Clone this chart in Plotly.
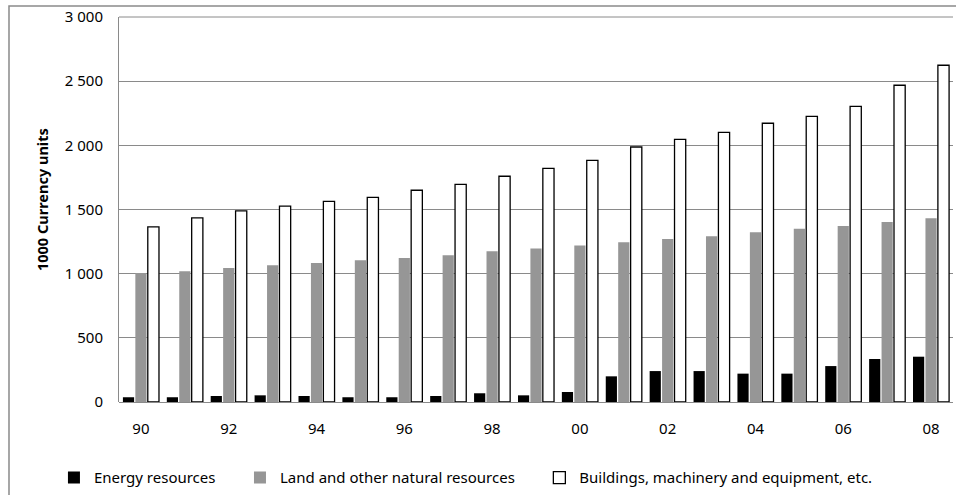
import plotly.graph_objects as go

years = list(range(1990, 2009))
energy = [37, 37, 47, 52, 47, 37, 37, 47, 68, 52, 78, 200, 241, 241, 221, 221, 280, 335, 353]
land = [1005, 1018, 1044, 1065, 1083, 1104, 1122, 1143, 1174, 1197, 1220, 1244, 1270, 1291, 1322, 1350, 1371, 1402, 1431]
buildings = [1364, 1434, 1490, 1527, 1564, 1595, 1650, 1696, 1759, 1821, 1883, 1987, 2047, 2101, 2172, 2226, 2304, 2468, 2624]
tick_years = list(range(1990, 2009, 2))
tick_text = ["90", "92", "94", "96", "98", "00", "02", "04", "06", "08"]

font = "Noto Sans"
pad = "\u00a0" * 5

fig = go.Figure()
fig.add_trace(go.Bar(x=years, y=energy, name="Energy resources" + pad,
                     marker=dict(color="#000000", line=dict(width=0))))
fig.add_trace(go.Bar(x=years, y=land, name="Land and other natural resources" + pad,
                     marker=dict(color="#969696", line=dict(width=0))))
fig.add_trace(go.Bar(x=years, y=buildings, name="Buildings, machinery and equipment, etc.",
                     marker=dict(color="#ffffff", line=dict(color="#000000", width=1.3))))

fig.update_layout(
    width=956, height=495,
    margin=dict(l=119, r=3, t=17, b=93, autoexpand=False),
    paper_bgcolor="white", plot_bgcolor="white",
    barmode="group", bargap=0.15, bargroupgap=0.1,
    separators=". ",
    font=dict(family=font, size=15, color="#000000"),
    showlegend=True,
    legend=dict(orientation="h", x=-0.078, xanchor="left", y=-0.197, yanchor="middle",
                font=dict(size=15), traceorder="normal"),
    xaxis=dict(range=[1989.5, 2008.5], tickmode="array", tickvals=tick_years, ticktext=tick_text,
               showgrid=False, ticks="", showline=False, zeroline=False,
               ticklabelstandoff=16, tickfont=dict(size=15)),
    yaxis=dict(range=[0, 3000], dtick=500, tickformat=",d", showgrid=True,
               gridcolor="#8a8a8a", gridwidth=1, showline=True, linecolor="#8a8a8a",
               linewidth=1, zeroline=True, zerolinecolor="#8a8a8a", zerolinewidth=1,
               ticks="", ticklabelstandoff=12, ticklabeloverflow="allow",
               tickfont=dict(size=15)),
    annotations=[dict(text="<b>1000 Currency units</b>", xref="paper", yref="paper",
                      x=-0.0923, y=0.5247, textangle=-90, showarrow=False,
                      xanchor="center", yanchor="middle", font=dict(size=14.5))],
    shapes=[dict(type="rect", xref="paper", yref="paper", x0=-0.1319, x1=1.1,
                 y0=-0.4, y1=1.0286, line=dict(color="#8a8a8a", width=1.5),
                 fillcolor="rgba(0,0,0,0)", layer="below"),
            dict(type="line", xref="paper", yref="paper", x0=0, x1=1, y0=1, y1=1,
                 line=dict(color="#8a8a8a", width=1), layer="below")],
)

fig.write_html("out.html", config={"displayModeBar": False},
               post_script="document.body.style.margin='0';document.body.style.overflow='hidden';")
